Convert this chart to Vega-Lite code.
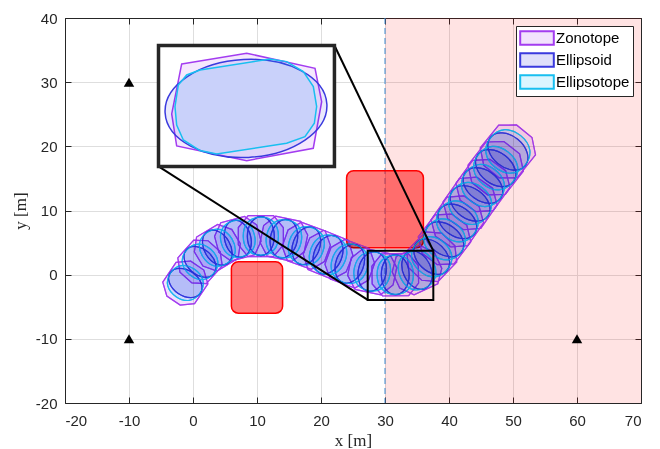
{
  "$schema": "https://vega.github.io/schema/vega-lite/v6.json",
  "width": 576,
  "height": 385,
  "autosize": {"type": "none"},
  "padding": {"left": 65, "top": 18, "right": 19, "bottom": 46},
  "background": "white",
  "config": {
    "view": {"stroke": null},
    "axis": {
      "labelFont": "Liberation Sans",
      "labelFontSize": 15,
      "labelColor": "#262626",
      "labelExpr": "replace(datum.label, '\u2212', '-')",
      "domainColor": "#262626",
      "tickColor": "#262626",
      "gridColor": "#dedede",
      "tickSize": -6,
      "titleFont": "Liberation Serif",
      "titleFontWeight": "normal",
      "titleFontSize": 17,
      "titleColor": "#262626"
    }
  },
  "datasets": {
    "sets": [
      {"x": -1.2, "y": -1.3, "heading": 56, "b": 3.0},
      {"x": 1.1, "y": 2.0, "heading": 48, "b": 3.0},
      {"x": 3.8, "y": 4.2, "heading": 31, "b": 3.1},
      {"x": 7.0, "y": 5.6, "heading": 15, "b": 3.1},
      {"x": 10.6, "y": 6.0, "heading": 0, "b": 3.2},
      {"x": 14.2, "y": 5.6, "heading": -12, "b": 3.2},
      {"x": 17.7, "y": 4.5, "heading": -20, "b": 3.2},
      {"x": 21.1, "y": 3.1, "heading": -22, "b": 3.3},
      {"x": 24.5, "y": 1.7, "heading": -20, "b": 3.3},
      {"x": 28.0, "y": 0.5, "heading": -12, "b": 3.3},
      {"x": 31.6, "y": 0.0, "heading": 1, "b": 3.3},
      {"x": 35.0, "y": 0.7, "heading": 25, "b": 3.3},
      {"x": 37.3, "y": 2.8, "heading": 46, "b": 3.4},
      {"x": 39.3, "y": 5.5, "heading": 53, "b": 3.5},
      {"x": 41.3, "y": 8.3, "heading": 55, "b": 3.5},
      {"x": 43.3, "y": 11.1, "heading": 55, "b": 3.6},
      {"x": 45.3, "y": 13.9, "heading": 54, "b": 3.6},
      {"x": 47.3, "y": 16.6, "heading": 52, "b": 3.7},
      {"x": 49.2, "y": 19.2, "heading": 51, "b": 3.7}
    ],
    "inset": [
      {"shape": "zonotope", "x": 8.28, "y": 25.67, "heading": 0, "b": 8},
      {"shape": "ellipsoid", "x": 8.28, "y": 25.9, "heading": 3, "b": 8},
      {"shape": "ellipsotope", "x": 8.28, "y": 25.67, "heading": 0, "b": 8}
    ]
  },
  "layer": [
    {
      "layer": [
        {
          "data": {"values": [{"x1": 30, "x2": 70, "y1": -20, "y2": 40}]},
          "mark": {"type": "rect", "fill": "#ff0000", "opacity": 0.11},
          "encoding": {
            "x": {"field": "x1", "type": "quantitative",
              "scale": {"domain": [-20, 70], "nice": false, "zero": false},
              "axis": {"values": [-20, -10, 0, 10, 20, 30, 40, 50, 60, 70], "grid": true, "title": "x [m]", "labelPadding": 16, "titlePadding": 4}},
            "x2": {"field": "x2"},
            "y": {"field": "y1", "type": "quantitative",
              "scale": {"domain": [-20, 40], "nice": false, "zero": false},
              "axis": {"values": [-20, -10, 0, 10, 20, 30, 40], "grid": true, "title": "y [m]", "labelPadding": 14, "titlePadding": 6}},
            "y2": {"field": "y2"}
          }
        },
        {
          "data": {"values": [{"x": 30}]},
          "mark": {"type": "rule", "stroke": "#3a8ad0", "strokeWidth": 1, "strokeDash": [6, 4]},
          "encoding": {"x": {"field": "x", "type": "quantitative"}}
        },
        {
          "data": {"values": [{"x1": 6, "x2": 14, "y1": -6, "y2": 2}, {"x1": 24, "x2": 36, "y1": 4.2, "y2": 16.2}]},
          "mark": {"type": "rect", "fill": "#ff0000", "fillOpacity": 0.52, "stroke": "#ff0000", "strokeWidth": 1.5, "cornerRadius": 7},
          "encoding": {
            "x": {"field": "x1", "type": "quantitative"},
            "x2": {"field": "x2"},
            "y": {"field": "y1", "type": "quantitative"},
            "y2": {"field": "y2"}
          }
        },
        {
          "data": {"name": "sets"},
          "mark": {"type": "point", "filled": true, "fillOpacity": 1, "strokeOpacity": 1, "strokeWidth": 1.2, "blend": "multiply",
            "shape": "M 1.1 -0.42 L 0.62 -1.0 L -0.62 -1.0 L -1.1 -0.42 L -1.1 0.42 L -0.62 1.0 L 0.62 1.0 L 1.1 0.42 Z"},
          "encoding": {
            "x": {"field": "x", "type": "quantitative"},
            "y": {"field": "y", "type": "quantitative"},
            "angle": {"field": "heading", "type": "quantitative", "scale": {"domain": [-180, 180], "range": [180, -180]}},
            "size": {"field": "b", "type": "quantitative", "scale": {"type": "pow", "exponent": 2, "domain": [0, 10], "range": [0, 16384]}, "legend": null},
            "fill": {"datum": "Zonotope", "type": "nominal",
              "scale": {"domain": ["Zonotope", "Ellipsoid", "Ellipsotope"], "range": ["#f2e2fd", "#dfdffa", "#dbf5ff"]},
              "legend": {"orient": "none", "legendX": 451, "legendY": 8, "title": null, "padding": 3,
                "fillColor": "white", "strokeColor": "#262626", "labelFont": "Liberation Sans", "labelFontSize": 15,
                "labelColor": "black", "rowPadding": 0, "symbolSize": 256, "symbolStrokeWidth": 2, "labelOffset": 10, "symbolOffset": 9,
                "symbolType": "M -2.1 -0.85 L 2.1 -0.85 L 2.1 0.85 L -2.1 0.85 Z"}},
            "stroke": {"datum": "Zonotope", "type": "nominal",
              "scale": {"domain": ["Zonotope", "Ellipsoid", "Ellipsotope"], "range": ["#a33cf0", "#3a3ade", "#18bff0"]},
              "legend": {"orient": "none", "legendX": 451, "legendY": 8, "title": null, "padding": 3,
                "fillColor": "white", "strokeColor": "#262626", "labelFont": "Liberation Sans", "labelFontSize": 15,
                "labelColor": "black", "rowPadding": 0, "symbolSize": 256, "symbolStrokeWidth": 2, "labelOffset": 10, "symbolOffset": 9,
                "symbolType": "M -2.1 -0.85 L 2.1 -0.85 L 2.1 0.85 L -2.1 0.85 Z"}}
          }
        },
        {
          "data": {"name": "sets"},
          "mark": {"type": "point", "filled": false, "strokeOpacity": 1, "strokeWidth": 1.2,
            "shape": "M 1.1 -0.42 L 0.62 -1.0 L -0.62 -1.0 L -1.1 -0.42 L -1.1 0.42 L -0.62 1.0 L 0.62 1.0 L 1.1 0.42 Z"},
          "encoding": {
            "x": {"field": "x", "type": "quantitative"},
            "y": {"field": "y", "type": "quantitative"},
            "angle": {"field": "heading", "type": "quantitative"},
            "size": {"field": "b", "type": "quantitative", "legend": null},
            "stroke": {"datum": "Zonotope", "type": "nominal", "legend": null}
          }
        },
        {
          "data": {"name": "sets"},
          "mark": {"type": "point", "filled": true, "fillOpacity": 1, "strokeOpacity": 1, "strokeWidth": 1.2, "blend": "multiply",
            "shape": "M 0.66 0 C 0.66 0.5247 0.3645 0.95 0 0.95 C -0.3645 0.95 -0.66 0.5247 -0.66 0 C -0.66 -0.5247 -0.3645 -0.95 0 -0.95 C 0.3645 -0.95 0.66 -0.5247 0.66 0 Z"},
          "encoding": {
            "x": {"field": "x", "type": "quantitative"},
            "y": {"field": "y", "type": "quantitative"},
            "angle": {"field": "heading", "type": "quantitative"},
            "size": {"field": "b", "type": "quantitative", "legend": null},
            "fill": {"datum": "Ellipsoid", "type": "nominal"},
            "stroke": {"datum": "Ellipsoid", "type": "nominal"}
          }
        },
        {
          "data": {"name": "sets"},
          "mark": {"type": "point", "filled": false, "strokeOpacity": 1, "strokeWidth": 1.2,
            "shape": "M 0.66 0 C 0.66 0.5247 0.3645 0.95 0 0.95 C -0.3645 0.95 -0.66 0.5247 -0.66 0 C -0.66 -0.5247 -0.3645 -0.95 0 -0.95 C 0.3645 -0.95 0.66 -0.5247 0.66 0 Z"},
          "encoding": {
            "x": {"field": "x", "type": "quantitative"},
            "y": {"field": "y", "type": "quantitative"},
            "angle": {"field": "heading", "type": "quantitative"},
            "size": {"field": "b", "type": "quantitative", "legend": null},
            "stroke": {"datum": "Ellipsoid", "type": "nominal", "legend": null}
          }
        },
        {
          "data": {"name": "sets"},
          "mark": {"type": "point", "filled": true, "fillOpacity": 1, "strokeOpacity": 1, "strokeWidth": 1.2, "blend": "multiply",
            "shape": "M 0.86 0 C 0.86 0.5766 0.5332 0.93 0 0.93 C -0.5332 0.93 -0.86 0.5766 -0.86 0 C -0.86 -0.5766 -0.5332 -0.93 0 -0.93 C 0.5332 -0.93 0.86 -0.5766 0.86 0 Z"},
          "encoding": {
            "x": {"field": "x", "type": "quantitative"},
            "y": {"field": "y", "type": "quantitative"},
            "angle": {"field": "heading", "type": "quantitative"},
            "size": {"field": "b", "type": "quantitative", "legend": null},
            "fill": {"datum": "Ellipsotope", "type": "nominal"},
            "stroke": {"datum": "Ellipsotope", "type": "nominal"}
          }
        },
        {
          "data": {"name": "sets"},
          "mark": {"type": "point", "filled": false, "strokeOpacity": 1, "strokeWidth": 1.2,
            "shape": "M 0.86 0 C 0.86 0.5766 0.5332 0.93 0 0.93 C -0.5332 0.93 -0.86 0.5766 -0.86 0 C -0.86 -0.5766 -0.5332 -0.93 0 -0.93 C 0.5332 -0.93 0.86 -0.5766 0.86 0 Z"},
          "encoding": {
            "x": {"field": "x", "type": "quantitative"},
            "y": {"field": "y", "type": "quantitative"},
            "angle": {"field": "heading", "type": "quantitative"},
            "size": {"field": "b", "type": "quantitative", "legend": null},
            "stroke": {"datum": "Ellipsotope", "type": "nominal", "legend": null}
          }
        },
        {
          "data": {"values": [{"x1": 27.3, "x2": 37.55, "y1": -3.93, "y2": 3.71}]},
          "mark": {"type": "rect", "fillOpacity": 0, "stroke": "black", "strokeWidth": 2},
          "encoding": {
            "x": {"field": "x1", "type": "quantitative"},
            "x2": {"field": "x2"},
            "y": {"field": "y1", "type": "quantitative"},
            "y2": {"field": "y2"}
          }
        },
        {
          "data": {"values": [{"x1": -5.39, "y1": 16.87, "x2": 27.3, "y2": -3.93}, {"x1": 22.1, "y1": 35.72, "x2": 37.55, "y2": 3.71}]},
          "mark": {"type": "rule", "stroke": "black", "strokeWidth": 2},
          "encoding": {
            "x": {"field": "x1", "type": "quantitative"},
            "y": {"field": "y1", "type": "quantitative"},
            "x2": {"field": "x2"},
            "y2": {"field": "y2"}
          }
        },
        {
          "data": {"values": [{"x1": -5.39, "x2": 22.1, "y1": 16.87, "y2": 35.72}]},
          "mark": {"type": "rect", "fill": "white", "stroke": "#262626", "strokeWidth": 3.5},
          "encoding": {
            "x": {"field": "x1", "type": "quantitative"},
            "x2": {"field": "x2"},
            "y": {"field": "y1", "type": "quantitative"},
            "y2": {"field": "y2"}
          }
        },
        {
          "data": {"name": "inset"},
          "transform": [{"filter": "datum.shape === 'zonotope'"}],
          "mark": {"type": "point", "filled": true, "fill": "#a020f0", "fillOpacity": 0.1, "stroke": "#a33cf0", "strokeOpacity": 1, "strokeWidth": 1.5,
            "shape": "M -1.256 -0.898 L 0.014 -1.107 L 1.348 -0.814 L 1.478 -0.162 L 1.314 0.748 L 0.014 0.99 L -1.354 0.703 L -1.451 0.078 Z"},
          "encoding": {
            "x": {"field": "x", "type": "quantitative"},
            "y": {"field": "y", "type": "quantitative"},
            "angle": {"field": "heading", "type": "quantitative"},
            "size": {"field": "b", "type": "quantitative", "legend": null}
          }
        },
        {
          "data": {"name": "inset"},
          "transform": [{"filter": "datum.shape === 'ellipsoid'"}],
          "mark": {"type": "point", "filled": true, "fill": "#2a2ae0", "fillOpacity": 0.1, "stroke": "#3a3ade", "strokeOpacity": 1, "strokeWidth": 1.5,
            "shape": "M 1.582 0 C 1.582 0.5285 0.874 0.957 0 0.957 C -0.874 0.957 -1.582 0.5285 -1.582 0 C -1.582 -0.5285 -0.874 -0.957 0 -0.957 C 0.874 -0.957 1.582 -0.5285 1.582 0 Z"},
          "encoding": {
            "x": {"field": "x", "type": "quantitative"},
            "y": {"field": "y", "type": "quantitative"},
            "angle": {"field": "heading", "type": "quantitative"},
            "size": {"field": "b", "type": "quantitative", "legend": null}
          }
        },
        {
          "data": {"name": "inset"},
          "transform": [{"filter": "datum.shape === 'ellipsotope'"}],
          "mark": {"type": "point", "filled": true, "fill": "#00bfff", "fillOpacity": 0.1, "stroke": "#18bff0", "strokeOpacity": 1, "strokeWidth": 1.5,
            "shape": "M -1.387 -0.065 L -1.354 0.293 L -1.224 0.586 L -0.898 0.794 L -0.573 0.859 L 0.794 0.651 L 1.152 0.521 L 1.335 0.26 L 1.38 -0.065 L 1.315 -0.456 L 1.12 -0.749 L 0.794 -0.944 L 0.469 -0.996 L -0.898 -0.781 L -1.159 -0.684 L -1.322 -0.488 Z"},
          "encoding": {
            "x": {"field": "x", "type": "quantitative"},
            "y": {"field": "y", "type": "quantitative"},
            "angle": {"field": "heading", "type": "quantitative"},
            "size": {"field": "b", "type": "quantitative", "legend": null}
          }
        }
      ]
    },
    {
      "data": {"values": [{"x": -10, "y": 30}, {"x": -10, "y": -10}, {"x": 60, "y": -10}]},
      "mark": {"type": "point", "shape": "triangle-up", "filled": true, "fill": "black", "opacity": 1, "size": 110},
      "encoding": {
        "x": {"field": "x", "type": "quantitative",
          "axis": {"orient": "top", "values": [-20, -10, 0, 10, 20, 30, 40, 50, 60, 70], "labels": false, "grid": false, "title": null}},
        "y": {"field": "y", "type": "quantitative",
          "axis": {"orient": "right", "values": [-20, -10, 0, 10, 20, 30, 40], "labels": false, "grid": false, "title": null}}
      }
    }
  ],
  "resolve": {"axis": {"x": "independent", "y": "independent"}}
}
